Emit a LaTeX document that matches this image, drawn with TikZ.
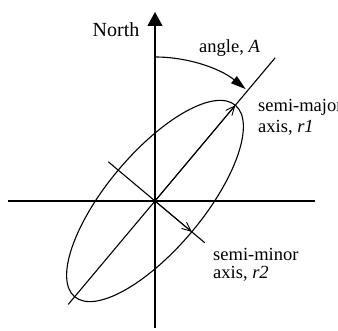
\documentclass[tikz,border=0pt]{standalone}
\usepackage{fontspec}
\setmainfont{Liberation Serif}
\usetikzlibrary{arrows.meta}
\begin{document}
\begin{tikzpicture}[x=1pt,y=1pt,
  lbl/.style={font=\fontsize{18.5}{21}\selectfont, inner sep=0pt, align=left},
  thin line/.style={line width=1.1pt},
  openarrow/.style={-{Straight Barb[length=9pt,width=8pt,line width=0.9pt]}}]
\useasboundingbox (0,0) rectangle (338,331);
\coordinate (O) at (155,130);
\coordinate (S) at (155,3);
\coordinate (N) at (155,319);
\coordinate (W) at (8,130);
\coordinate (E) at (315,130);
% axes
\draw[thin line,-{Triangle[length=14pt,width=15pt]}] (S) -- (N);
\draw[thin line] (W) -- (E);
% major line
\draw[thin line] (O) -- ++(50:187) coordinate (MajEnd);
\draw[thin line] (O) -- ++(230:135) coordinate (MajLow);
% ellipse
\draw[thin line] (O) ellipse[x radius=125, y radius=48, rotate=50];
% axis arrows
\draw[thin line] (O) -- ++(140:61) coordinate (MinUp);
\draw[thin line] (O) -- ++(-40:65) coordinate (MinEnd);
\path (O) ++(50:125) coordinate (MajTip);
\path (O) ++(-40:48) coordinate (MinTip);
\draw[line width=0.9pt, openarrow] (O) -- (MajTip);
\draw[line width=0.9pt, openarrow] (O) -- (MinTip);
% angle arc
\path (O) ++(90:144) coordinate (ArcStart);
\draw[thin line,-{Triangle[length=15pt,width=9pt]}] (ArcStart) arc[start angle=90, end angle=51, radius=144];
% labels
\node[lbl, font=\fontsize{20}{22}\selectfont] (north) at (116,301) {North};
\node[lbl, anchor=west] (angle) at (199,283) {angle, \textit{A}};
\node[lbl, anchor=west] (major) at (258,224) {semi-major};
\node[lbl, anchor=west] (majaxis) at (258,203) {axis, \textit{r1}};
\node[lbl, anchor=west] (minor) at (213,77) {semi-minor};
\node[lbl, anchor=west] (minaxis) at (213,57) {axis, \textit{r2}};
\end{tikzpicture}
\end{document}
